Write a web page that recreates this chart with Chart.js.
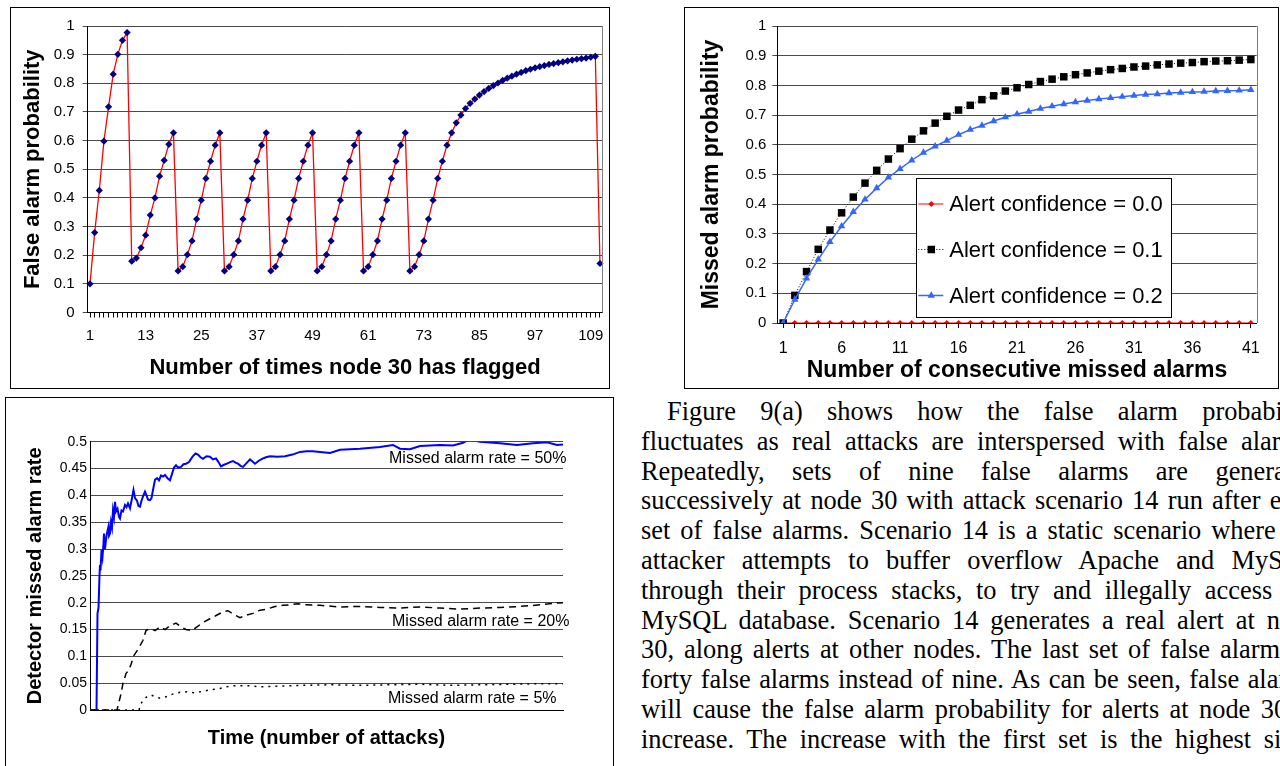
<!DOCTYPE html>
<html>
<head>
<meta charset="utf-8">
<script src="https://cdn.jsdelivr.net/npm/chart.js@4.4.1/dist/chart.umd.min.js"></script>
<style>
html, body { margin: 0; padding: 0; background: #fff; }
body { width: 1280px; height: 766px; overflow: hidden; position: relative; }
.box { position: absolute; border: 1px solid #000; box-sizing: border-box; }
.cv { position: absolute; }
.txt { position: absolute; left: 641px; width: 677px; height: 30px; line-height: 29.8px;
  font-family: "Liberation Serif", "Times New Roman", serif; font-size: 26.4px; color: #000;
  text-align: justify; text-align-last: justify; overflow: hidden; }
</style>
</head>
<body>
<div class="box" style="left:10px;top:7px;width:600px;height:382px"></div>
<div class="cv" style="left:10px;top:7px;width:599px;height:381px"><canvas id="c1"></canvas></div>

<div class="box" style="left:684px;top:7px;width:595px;height:382px"></div>
<div class="cv" style="left:684px;top:7px;width:594px;height:381px"><canvas id="c2"></canvas></div>

<div class="box" style="left:5px;top:397px;width:609px;height:380px"></div>
<div class="cv" style="left:5px;top:397px;width:608px;height:369px"><canvas id="c3"></canvas></div>

<div id="para"></div>

<script>
// ---- figure 9(a): false alarm probability at node 30 ----
const flagNo = Array.from({ length: 111 }, (_, i) => String(i + 1));
const flagTicks = ['1', '13', '25', '37', '49', '61', '73', '85', '97', '109'];
const falseAlarmProb = [
  0.1, 0.279, 0.426, 0.598, 0.718, 0.832, 0.901, 0.95, 0.977,
  0.179, 0.19, 0.226, 0.27, 0.34, 0.40, 0.476, 0.531, 0.587, 0.627,
  0.145, 0.16, 0.202, 0.25, 0.326, 0.392, 0.468, 0.528, 0.584, 0.627,
  0.145, 0.16, 0.202, 0.25, 0.326, 0.392, 0.468, 0.528, 0.584, 0.627,
  0.145, 0.16, 0.202, 0.25, 0.326, 0.392, 0.468, 0.528, 0.584, 0.627,
  0.145, 0.16, 0.202, 0.25, 0.326, 0.392, 0.468, 0.528, 0.584, 0.627,
  0.145, 0.16, 0.202, 0.25, 0.326, 0.392, 0.468, 0.528, 0.584, 0.627,
  0.145, 0.16, 0.202, 0.25, 0.326, 0.392, 0.468, 0.528, 0.584, 0.627,
  0.662, 0.689, 0.712, 0.73, 0.745, 0.759, 0.771, 0.782, 0.792, 0.801,
  0.81, 0.818, 0.825, 0.832, 0.838, 0.844, 0.849, 0.854, 0.858, 0.862,
  0.866, 0.869, 0.872, 0.875, 0.878, 0.881, 0.884, 0.886, 0.888, 0.891, 0.894,
  0.171
];

// ---- missed alarm probability vs consecutive missed alarms ----
const missedNo = Array.from({ length: 41 }, (_, i) => String(i + 1));
const missedTicks = ['1', '6', '11', '16', '21', '26', '31', '36', '41'];
const confLabels = ['Alert confidence = 0.0', 'Alert confidence = 0.1', 'Alert confidence = 0.2'];
const conf00 = [0,0,0,0,0,0,0,0,0,0,0,0,0,0,0,0,0,0,0,0,0,0,0,0,0,0,0,0,0,0,0,0,0,0,0,0,0,0,0,0,0];
const conf01 = [0, 0.093, 0.173, 0.248, 0.313, 0.371, 0.424, 0.471, 0.514, 0.552, 0.587, 0.619, 0.647,
  0.673, 0.696, 0.717, 0.733, 0.752, 0.765, 0.781, 0.792, 0.803, 0.813, 0.821, 0.829, 0.836, 0.842,
  0.848, 0.853, 0.857, 0.862, 0.865, 0.869, 0.872, 0.875, 0.877, 0.880, 0.882, 0.883, 0.885, 0.887];
const conf02 = [0, 0.079, 0.15, 0.214, 0.273, 0.326, 0.374, 0.416, 0.454, 0.49, 0.519, 0.548, 0.574,
  0.595, 0.614, 0.634, 0.651, 0.665, 0.68, 0.693, 0.703, 0.712, 0.722, 0.73, 0.737, 0.744, 0.749,
  0.754, 0.758, 0.762, 0.766, 0.769, 0.771, 0.774, 0.776, 0.778, 0.779, 0.781, 0.782, 0.783, 0.785];

// ---- detector missed alarm rate over time ----
const rateLabels = ['Missed alarm rate = 50%', 'Missed alarm rate = 20%', 'Missed alarm rate = 5%'];
const t50 = [0,13,15,17,19,20,21,23,25,27,28,30,32,34,37,38,40,42,44,46,48,50,52,55,58,60,63,66,70,73,
  76,80,83,87,90,94,97,100,103,106,110,113,116,120,123,126,130,134,138,142,146,150,155,160,164,168,172,176,182,187,
  192,198,202,206,211,216,221,226,233,240,246,252,257,262,268,274,280,286,291,296,301,306,313,320,325,330,337,344,352,360,
  375,390,405,420,433,446,460,480,500,540,580,606,620,640,660,700,726,746,758,780,820,854,886,914,934,946];
const v50 = [0,0,0.18,0.19,0.25,0.27,0.26,0.298,0.285,0.31,0.329,0.30,0.317,0.33,0.342,0.325,0.329,0.35,0.34,0.372,
  0.36,0.388,0.37,0.375,0.36,0.357,0.372,0.37,0.382,0.378,0.385,0.376,0.39,0.41,0.395,0.39,0.38,0.379,0.39,0.398,
  0.407,0.40,0.392,0.391,0.395,0.41,0.429,0.432,0.428,0.437,0.435,0.438,0.432,0.428,0.44,0.452,0.456,0.452,0.453,0.458,
  0.459,0.462,0.468,0.473,0.478,0.476,0.471,0.468,0.473,0.472,0.467,0.469,0.462,0.454,0.457,0.459,0.462,0.464,0.461,0.459,
  0.455,0.453,0.46,0.467,0.463,0.459,0.464,0.468,0.471,0.473,0.472,0.473,0.476,0.481,0.482,0.482,0.481,0.479,0.485,0.487,
  0.49,0.494,0.487,0.486,0.492,0.494,0.493,0.498,0.504,0.50,0.497,0.494,0.497,0.499,0.494,0.495];
const t20 = [0,54,58,62,66,72,78,82,88,94,100,106,112,120,130,140,150,160,172,182,192,204,214,226,240,254,266,276,290,300,
  314,326,340,354,370,386,400,416,430,460,500,540,580,620,660,700,740,780,820,860,900,930,946];
const v20 = [0,0,0.015,0.03,0.05,0.068,0.075,0.085,0.102,0.11,0.12,0.13,0.148,0.152,0.148,0.155,0.15,0.157,0.162,0.155,
  0.15,0.148,0.155,0.163,0.17,0.177,0.183,0.185,0.177,0.172,0.177,0.18,0.186,0.188,0.193,0.195,0.196,0.198,0.196,0.195,
  0.192,0.193,0.191,0.19,0.192,0.19,0.188,0.19,0.191,0.193,0.196,0.199,0.2];
const t5 = [0,98,102,108,114,122,130,140,154,166,180,194,210,226,244,260,272,286,300,320,340,360,390,420,480,540,600,660,
  720,780,840,900,946];
const v5 = [0,0,0.012,0.02,0.025,0.028,0.025,0.022,0.025,0.03,0.033,0.034,0.032,0.035,0.038,0.04,0.043,0.045,0.045,0.045,
  0.043,0.044,0.045,0.046,0.047,0.046,0.047,0.048,0.046,0.047,0.048,0.049,0.049];

const paragraph = [
  'Figure 9(a) shows how the false alarm probability',
  'fluctuates as real attacks are interspersed with false alarms.',
  'Repeatedly, sets of nine false alarms are generated',
  'successively at node 30 with attack scenario 14 run after each',
  'set of false alarms. Scenario 14 is a static scenario where the',
  'attacker attempts to buffer overflow Apache and MySQL',
  'through their process stacks, to try and illegally access the',
  'MySQL database. Scenario 14 generates a real alert at node',
  '30, along alerts at other nodes. The last set of false alarms is',
  'forty false alarms instead of nine. As can be seen, false alarms',
  'will cause the false alarm probability for alerts at node 30 to',
  'increase. The increase with the first set is the highest since'
];

// text column
const para = document.getElementById('para');
paragraph.forEach((line, i) => {
  const d = document.createElement('div');
  d.className = 'txt';
  d.style.top = (397 + i * 29.8) + 'px';
  if (i === 0) d.style.textIndent = '26px';
  d.textContent = line;
  para.appendChild(d);
});

Chart.defaults.font.family = '"Liberation Sans", Arial, sans-serif';
Chart.defaults.color = '#000';

const GRID = '#4a4a4a';
const tickFmt = v => String(+(+v).toFixed(2));

// gray right-hand edge of the plot area
const frame = {
  id: 'frame',
  afterDraw(chart) {
    const { ctx, chartArea: a } = chart;
    ctx.save();
    ctx.strokeStyle = '#808080';
    ctx.lineWidth = 1;
    ctx.beginPath();
    ctx.moveTo(Math.round(a.right) + 0.5, a.top);
    ctx.lineTo(Math.round(a.right) + 0.5, a.bottom);
    ctx.stroke();
    ctx.restore();
  }
};

// chart 1
new Chart(document.getElementById('c1'), {
  type: 'line',
  data: {
    labels: flagNo,
    datasets: [{
      data: falseAlarmProb,
      borderColor: '#ff0000', borderWidth: 1.3, tension: 0,
      pointStyle: 'rectRot', pointRadius: 3.6,
      pointBackgroundColor: '#000080', pointBorderColor: '#000080', pointBorderWidth: 0,
    }]
  },
  options: {
    responsive: true, maintainAspectRatio: false, animation: false,
    layout: { padding: { left: 0, right: 4, top: 19, bottom: 0 } },
    plugins: { legend: { display: false }, tooltip: { enabled: false } },
    scales: {
      x: {
        offset: true,
        grid: { drawOnChartArea: false, drawTicks: true, tickLength: 5, color: '#000' },
        border: { color: '#000' },
        ticks: { autoSkip: false, maxRotation: 0, font: { size: 15 }, padding: 9,
          callback: (v, i) => flagTicks.includes(flagNo[i]) ? flagNo[i] : '' },
        title: { display: true, text: 'Number of times node 30 has flagged',
          font: { size: 22, weight: 'bold' }, padding: { bottom: 7 } },
        afterFit: s => { s.height = 75.5; }
      },
      y: {
        min: 0, max: 1,
        grid: { color: GRID, tickLength: 5 },
        border: { color: '#000' },
        ticks: { stepSize: 0.1, font: { size: 15 }, padding: 8, callback: tickFmt },
        title: { display: true, text: 'False alarm probability',
          font: { size: 22, weight: 'bold' }, padding: { top: 10 } },
        afterFit: s => { s.width = 77.7; }
      }
    }
  },
  plugins: [frame]
});

// legend box inside chart 2
const legendBox = {
  id: 'legendBox',
  afterDraw(chart) {
    const { ctx, chartArea: a } = chart;
    const x = a.left + 139, y = a.top + 152, w = 255, h = 139;
    ctx.save();
    ctx.fillStyle = '#fff';
    ctx.fillRect(x, y, w, h);
    ctx.strokeStyle = '#000';
    ctx.lineWidth = 1;
    ctx.strokeRect(Math.round(x) + 0.5, Math.round(y) + 0.5, w, h);
    const rowY = [26, 71.5, 117.5];
    chart.data.datasets.forEach((ds, i) => {
      const cy = y + rowY[i];
      ctx.strokeStyle = ds.borderColor;
      ctx.lineWidth = ds.borderWidth;
      ctx.setLineDash(ds.borderDash || []);
      ctx.beginPath();
      ctx.moveTo(x + 2, cy);
      ctx.lineTo(x + 27, cy);
      ctx.stroke();
      ctx.setLineDash([]);
      ctx.fillStyle = ds.pointBackgroundColor;
      Chart.helpers.drawPoint(ctx, { pointStyle: ds.pointStyle, radius: ds.pointRadius, rotation: 0, borderWidth: 0 }, x + 15, cy);
      ctx.fillStyle = '#000';
      ctx.font = '22px "Liberation Sans", Arial, sans-serif';
      ctx.textBaseline = 'middle';
      ctx.textAlign = 'left';
      ctx.fillText(ds.label, x + 33, cy + 1);
    });
    ctx.restore();
  }
};

// chart 2
new Chart(document.getElementById('c2'), {
  type: 'line',
  data: {
    labels: missedNo,
    datasets: [
      { label: confLabels[0], data: conf00, order: 2, borderColor: '#ff0000', borderWidth: 1, tension: 0,
        pointStyle: 'rectRot', pointRadius: 3, pointBackgroundColor: '#ff0000', pointBorderWidth: 0 },
      { label: confLabels[1], data: conf01, order: 1, borderColor: '#000', borderWidth: 1, borderDash: [1, 2], tension: 0,
        pointStyle: 'rect', pointRadius: 5.3, pointBackgroundColor: '#000', pointBorderWidth: 0 },
      { label: confLabels[2], data: conf02, order: 0, borderColor: '#3366ff', borderWidth: 1.5, tension: 0,
        pointStyle: 'triangle', pointRadius: 4.3, pointBackgroundColor: '#3366ff', pointBorderWidth: 0 }
    ]
  },
  options: {
    responsive: true, maintainAspectRatio: false, animation: false,
    layout: { padding: { left: 0, right: 21.3, top: 19, bottom: 0 } },
    plugins: { legend: { display: false }, tooltip: { enabled: false } },
    scales: {
      x: {
        offset: true,
        grid: { drawOnChartArea: false, drawTicks: true, tickLength: 5, color: '#000' },
        border: { color: '#000' },
        ticks: { autoSkip: false, maxRotation: 0, font: { size: 16 }, padding: 11,
          callback: (v, i) => missedTicks.includes(missedNo[i]) ? missedNo[i] : '' },
        title: { display: true, text: 'Number of consecutive missed alarms',
          font: { size: 23, weight: 'bold' }, padding: { bottom: 4 } },
        afterFit: s => { s.height = 65; }
      },
      y: {
        min: 0, max: 1,
        grid: { color: GRID, tickLength: 5 },
        border: { color: '#000' },
        ticks: { stepSize: 0.1, font: { size: 15 }, padding: 6, callback: tickFmt },
        title: { display: true, text: 'Missed alarm probability',
          font: { size: 23, weight: 'bold' }, padding: { top: 14 } },
        afterFit: s => { s.width = 93.3; }
      }
    }
  },
  plugins: [frame, legendBox]
});

// series labels written next to the curves of chart 3
const rateNotes = {
  id: 'rateNotes',
  afterDraw(chart) {
    const { ctx, chartArea: a } = chart;
    const pos = [[299, 16.6], [302, 180], [298, 257.3]];
    ctx.save();
    ctx.fillStyle = '#000';
    ctx.font = '16px "Liberation Sans", Arial, sans-serif';
    ctx.textBaseline = 'middle';
    rateLabels.forEach((txt, i) => ctx.fillText(txt, a.left + pos[i][0], a.top + pos[i][1]));
    ctx.restore();
  }
};

const pts = (ts, vs) => ts.map((t, i) => ({ x: t, y: vs[i] }));

// chart 3
new Chart(document.getElementById('c3'), {
  type: 'line',
  data: {
    datasets: [
      { data: pts(t50, v50), borderColor: '#0000ff', borderWidth: 2, pointRadius: 0, tension: 0 },
      { data: pts(t20, v20), borderColor: '#000', borderWidth: 1.5, borderDash: [7, 5], pointRadius: 0, tension: 0 },
      { data: pts(t5, v5), borderColor: '#000', borderWidth: 1.5, borderDash: [2, 5], pointRadius: 0, tension: 0 }
    ]
  },
  options: {
    responsive: true, maintainAspectRatio: false, animation: false,
    layout: { padding: { left: 0, right: 50, top: 44.7, bottom: 0 } },
    plugins: { legend: { display: false }, tooltip: { enabled: false } },
    scales: {
      x: {
        type: 'linear', min: 0, max: 946,
        grid: { display: false },
        border: { color: '#000' },
        ticks: { display: false },
        title: { display: true, text: 'Time (number of attacks)',
          font: { size: 20, weight: 'bold' }, padding: { bottom: 15.7 } },
        afterFit: s => { s.height = 56; }
      },
      y: {
        min: 0, max: 0.5,
        grid: { color: GRID, drawTicks: false },
        border: { color: '#000' },
        ticks: { stepSize: 0.05, font: { size: 14 }, padding: 3, callback: tickFmt },
        title: { display: true, text: 'Detector missed alarm rate',
          font: { size: 20, weight: 'bold' }, padding: { top: 18.7 } },
        afterFit: s => { s.width = 85; }
      }
    }
  },
  plugins: [rateNotes]
});
</script>
</body>
</html>
